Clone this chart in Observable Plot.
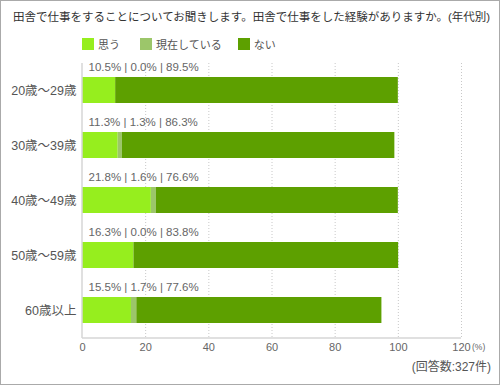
<!DOCTYPE html>
<html>
<head>
<meta charset="utf-8">
<script src="https://cdn.jsdelivr.net/npm/d3@7"></script>
<script src="https://cdn.jsdelivr.net/npm/@observablehq/plot@0.6"></script>
<style>
  html, body { margin: 0; padding: 0; background: #fff; }
  body { font-family: "Liberation Sans", "Noto Sans CJK JP", sans-serif; }
  #wrap { position: relative; width: 500px; height: 385px; overflow: hidden; }
  #frame { position: absolute; left: 0; top: 0; width: 500px; height: 385px; box-sizing: border-box; border: 1px solid #aaa; pointer-events: none; }
  #title { position: absolute; left: 13px; top: 8px; font-size: 11.5px; color: #333; white-space: nowrap; letter-spacing: 0; }
  #legend { position: absolute; left: 82px; top: 36px; font-size: 11px; color: #555; display: flex; align-items: center; }
  #legend .item { display: flex; align-items: center; }
  #legend .sw { width: 12px; height: 12px; margin-right: 4px; }
  #plot { position: absolute; left: 0; top: 0; }
  #unit { position: absolute; left: 472px; top: 342px; font-size: 8.5px; color: #666; }
  #caption { position: absolute; right: 9px; top: 357px; font-size: 12px; color: #555; }
</style>
</head>
<body>
<div id="wrap">
  <div id="plot"></div>
  <div id="title">田舎で仕事をすることについてお聞きします。田舎で仕事をした経験がありますか。(年代別)</div>
  <div id="legend"></div>
  <div id="unit">(%)</div>
  <div id="caption">(回答数:327件)</div>
  <div id="frame"></div>
</div>
<script>
const ages = ["20歳～29歳", "30歳～39歳", "40歳～49歳", "50歳～59歳", "60歳以上"];
const kinds = ["思う", "現在している", "ない"];
const omou = [10.5, 11.3, 21.8, 16.3, 15.5];
const genzai = [0.0, 1.3, 1.6, 0.0, 1.7];
const nai = [89.5, 86.3, 76.6, 83.8, 77.6];
const colors = ["#96ee1e", "#9cc66a", "#5da000"];
const xTicks = [0, 20, 40, 60, 80, 100, 120];

const series = [omou, genzai, nai];
const data = [];
kinds.forEach((k, j) => ages.forEach((a, i) => data.push({age: a, kind: k, value: series[j][i]})));
const labels = ages.map((a, i) => ({age: a, text: `${omou[i].toFixed(1)}% | ${genzai[i].toFixed(1)}% | ${nai[i].toFixed(1)}%`}));

const lg = document.getElementById("legend");
const gaps = [0, 20, 16];
kinds.forEach((k, j) => {
  const it = document.createElement("div");
  it.className = "item";
  it.style.marginLeft = gaps[j] + "px";
  it.innerHTML = `<div class="sw" style="background:${colors[j]}"></div><span>${k}</span>`;
  lg.appendChild(it);
});

function axisLines(index, scales, values, dims) {
  const g = document.createElementNS("http://www.w3.org/2000/svg", "g");
  const x0 = scales.x(0), x1 = scales.x(120);
  const yTop = dims.marginTop, yBot = dims.height - dims.marginBottom;
  const mk = (a, b, c, d) => {
    const l = document.createElementNS("http://www.w3.org/2000/svg", "line");
    l.setAttribute("x1", a); l.setAttribute("y1", b); l.setAttribute("x2", c); l.setAttribute("y2", d);
    l.setAttribute("stroke", "#d6d6d6"); l.setAttribute("stroke-width", 1.5);
    g.appendChild(l);
  };
  mk(x0, yTop, x0, yBot);
  mk(x0, yBot, x1, yBot);
  return g;
}

const chart = Plot.plot({
  width: 500,
  height: 385,
  marginLeft: 82,
  marginRight: 39,
  marginTop: 63,
  marginBottom: 47,
  style: {fontFamily: '"Liberation Sans", "Noto Sans CJK JP", sans-serif', background: "transparent"},
  x: {domain: [0, 120], ticks: xTicks, label: null, tickSize: 0},
  y: {domain: ages, paddingInner: 0.52, paddingOuter: 0.26, label: null, tickSize: 0},
  color: {domain: kinds, range: colors},
  marks: [
    Plot.ruleX(xTicks.filter(d => d > 0), {stroke: "#c8c8c8", strokeDasharray: "1,2"}),
    Plot.barX(data, {x: "value", y: "age", fill: "kind"}),
    Plot.text(labels, {x: 0, y: "age", text: "text", dy: -23, dx: 6, textAnchor: "start", fontSize: 11.5, fill: "#666"}),
    axisLines,
    Plot.axisX({ticks: xTicks, tickSize: 0, tickPadding: 5, fontSize: 11, color: "#666", label: null}),
    Plot.axisY({tickSize: 0, tickPadding: 6, fontSize: 12.5, color: "#555", label: null})
  ]
});
document.getElementById("plot").appendChild(chart);
</script>
</body>
</html>
